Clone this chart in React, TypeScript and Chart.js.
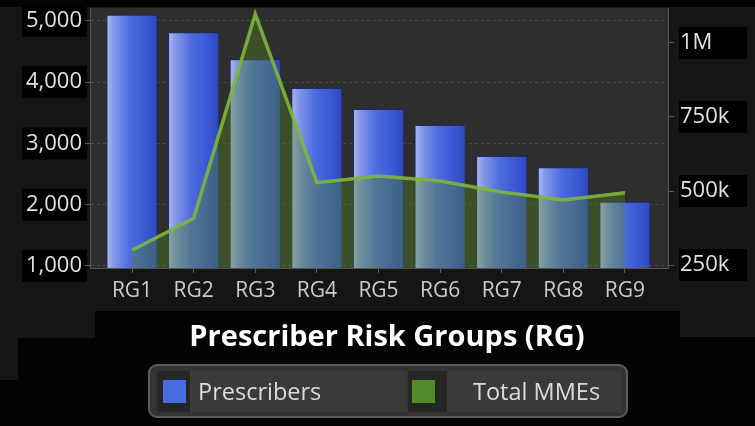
import React, { useEffect, useRef } from 'react';
import { Chart, registerables } from 'chart.js';

Chart.register(...registerables);

const categories = ['RG1', 'RG2', 'RG3', 'RG4', 'RG5', 'RG6', 'RG7', 'RG8', 'RG9'];
const prescribers = [5100, 4815, 4375, 3905, 3565, 3300, 2795, 2612, 2050];
const totalMMEs = [300000, 408000, 1098000, 528000, 551000, 534000, 497000, 470000, 494000];
const leftTicks = [1000, 2000, 3000, 4000, 5000];
const leftTickLabels = ['1,000', '2,000', '3,000', '4,000', '5,000'];
const rightTicks = [250000, 500000, 750000, 1000000];
const rightTickLabels = ['250k', '500k', '750k', '1M'];
const seriesLabels = ['Prescribers', 'Total MMEs'];
const xTitle = 'Prescriber Risk Groups (RG)';

const FONT = "'Open Sans', 'Noto Sans', sans-serif";
const BAR_PCT = 0.83;

function barFill(ctx: any) {
  const chart = ctx.chart;
  if (!chart.chartArea || ctx.type !== 'data' || !ctx.parsed) return 'rgb(75,105,220)';
  const xs = chart.scales.x;
  const cx = xs.getPixelForValue(ctx.parsed.x);
  const spacing = Math.abs(xs.getPixelForValue(2) - xs.getPixelForValue(1));
  const half = (spacing * BAR_PCT) / 2;
  const g = chart.ctx.createLinearGradient(cx - half, 0, cx + half, 0);
  g.addColorStop(0, 'rgb(172,184,240)');
  g.addColorStop(0.15, 'rgb(130,150,232)');
  g.addColorStop(0.45, 'rgb(78,108,222)');
  g.addColorStop(0.8, 'rgb(56,86,210)');
  g.addColorStop(1, 'rgb(46,70,188)');
  return g;
}

const decorPlugin = {
  id: 'decor',
  beforeDraw(chart: any) {
    const { ctx, chartArea: ca, width, height } = chart;
    ctx.save();
    ctx.fillStyle = '#030303';
    ctx.fillRect(0, 0, width, height);
    ctx.fillStyle = '#151515';
    ctx.fillRect(0, 7, width, 304);
    ctx.fillRect(0, 310, 95, 28);
    ctx.fillRect(0, 337, 18, 43);
    ctx.fillRect(680, 310, width - 680, 27);
    ctx.fillStyle = '#2e2e2e';
    ctx.fillRect(ca.left, ca.top, ca.right - ca.left, ca.bottom - ca.top);
    ctx.fillStyle = '#000';
    const ys = chart.scales.y;
    leftTicks.forEach((v) => {
      const p = ys.getPixelForValue(v);
      ctx.fillRect(22, p - 16, 65, 32);
    });
    const y1 = chart.scales.y1;
    rightTicks.forEach((v) => {
      const p = y1.getPixelForValue(v);
      ctx.fillRect(679, p - 16, 68, 32);
    });
    ctx.restore();
  },
  afterDraw(chart: any) {
    const { ctx } = chart;
    ctx.save();
    ctx.fillStyle = '#ffffff';
    ctx.font = `bold 29px ${FONT}`;
    ctx.textAlign = 'center';
    ctx.textBaseline = 'alphabetic';
    ctx.fillText(xTitle, 387, 346);

    const rr = (x: number, y: number, w: number, h: number, r: number) => {
      ctx.beginPath();
      ctx.moveTo(x + r, y);
      ctx.lineTo(x + w - r, y);
      ctx.arcTo(x + w, y, x + w, y + r, r);
      ctx.lineTo(x + w, y + h - r);
      ctx.arcTo(x + w, y + h, x + w - r, y + h, r);
      ctx.lineTo(x + r, y + h);
      ctx.arcTo(x, y + h, x, y + h - r, r);
      ctx.lineTo(x, y + r);
      ctx.arcTo(x, y, x + r, y, r);
      ctx.closePath();
    };
    rr(149, 365, 478, 52, 8);
    ctx.fillStyle = '#333333';
    ctx.fill();
    ctx.lineWidth = 2;
    ctx.strokeStyle = '#5c5c5c';
    ctx.stroke();

    const items = [
      { sq0: 157, sq1: 190, tx1: 407, swatch: 163, text: 198, color: 'rgb(70,108,222)' },
      { sq0: 408, sq1: 447, tx1: 622, swatch: 412, text: 473, color: 'rgb(82,140,42)' },
    ];
    const ds = chart.data.datasets;
    items.forEach((it, i) => {
      ctx.fillStyle = '#262626';
      ctx.fillRect(it.sq0, 371, it.sq1 - it.sq0, 41);
      ctx.fillStyle = '#3a3a3a';
      ctx.fillRect(it.sq1, 371, it.tx1 - it.sq1, 41);
      ctx.fillStyle = it.color;
      ctx.fillRect(it.swatch, 380, 23, 23);
      ctx.fillStyle = '#dcdcdc';
      ctx.font = `23.5px ${FONT}`;
      ctx.textAlign = 'left';
      ctx.textBaseline = 'alphabetic';
      ctx.fillText(ds[i].label, it.text, 400);
    });
    ctx.restore();
  },
};

export default function App() {
  const ref = useRef<HTMLCanvasElement>(null);
  useEffect(() => {
    document.body.style.margin = '0';
    document.body.style.background = '#030303';
    if (!ref.current) return;
    const chart = new Chart(ref.current, {
      type: 'bar',
      data: {
        datasets: [
          {
            type: 'bar',
            label: seriesLabels[0],
            data: prescribers.map((v, i) => ({ x: i + 1, y: v })),
            yAxisID: 'y',
            xAxisID: 'x',
            backgroundColor: barFill,
            borderColor: '#1d2a6c',
            borderWidth: 1,
            categoryPercentage: 1,
            barPercentage: BAR_PCT,
            order: 1,
          } as any,
          {
            type: 'line',
            label: seriesLabels[1],
            data: totalMMEs.map((v, i) => ({ x: i + 1, y: v })),
            yAxisID: 'y1',
            xAxisID: 'x',
            borderColor: 'rgba(126,182,58,0.9)',
            borderWidth: 3.5,
            backgroundColor: 'rgba(85,135,35,0.38)',
            fill: 'start',
            pointRadius: 0,
            tension: 0,
            order: 0,
          } as any,
        ],
      },
      options: {
        animation: false,
        responsive: false,
        devicePixelRatio: 1,
        events: [],
        layout: { padding: { top: 8, bottom: 118, left: 0, right: 0 } },
        plugins: { legend: { display: false }, tooltip: { enabled: false }, title: { display: false } },
        scales: {
          x: {
            type: 'linear',
            min: 0.318,
            max: 9.698,
            offset: false,
            grid: {
              offset: false,
              drawOnChartArea: false,
              drawTicks: true,
              tickLength: 5,
              tickColor: '#5a5a5a',
            },
            border: { color: '#555555', width: 1 },
            ticks: {
              color: '#cccccc',
              font: { family: FONT, size: 21 },
              padding: 5,
              maxRotation: 0,
              autoSkip: false,
              callback: (v: any) => categories[Number(v) - 1] ?? '',
            },
            afterBuildTicks: (s: any) => {
              s.ticks = categories.map((_, i) => ({ value: i + 1 }));
            },
            afterFit: (s: any) => {
              s.height = 40;
              s.paddingLeft = 0;
              s.paddingRight = 0;
            },
          },
          y: {
            type: 'linear',
            position: 'left',
            min: 967,
            max: 5212,
            grid: {
              color: 'rgba(255,255,255,0.13)',
              drawTicks: true,
              tickLength: 5,
              tickColor: '#5a5a5a',
              tickBorderDash: [],
            },
            border: { color: '#555555', width: 1, dash: [3, 3] },
            ticks: {
              color: '#e2e2e2',
              font: { family: FONT, size: 22 },
              padding: 3,
              callback: (v: any) => leftTickLabels[leftTicks.indexOf(Number(v))] ?? '',
            },
            afterBuildTicks: (s: any) => {
              s.ticks = leftTicks.map((v) => ({ value: v }));
            },
            afterFit: (s: any) => {
              s.width = 90;
              s.paddingTop = 0;
              s.paddingBottom = 0;
            },
          },
          y1: {
            type: 'linear',
            position: 'right',
            min: 240000,
            max: 1118000,
            grid: {
              drawOnChartArea: false,
              drawTicks: true,
              tickLength: 6,
              tickColor: '#5a5a5a',
            },
            border: { color: '#555555', width: 1 },
            ticks: {
              color: '#e2e2e2',
              font: { family: FONT, size: 22 },
              padding: 6,
              callback: (v: any) => rightTickLabels[rightTicks.indexOf(Number(v))] ?? '',
            },
            afterBuildTicks: (s: any) => {
              s.ticks = rightTicks.map((v) => ({ value: v }));
            },
            afterFit: (s: any) => {
              s.width = 87;
              s.paddingTop = 0;
              s.paddingBottom = 0;
            },
          },
        },
      } as any,
      plugins: [decorPlugin],
    });
    return () => chart.destroy();
  }, []);
  return (
    <div style={{ width: 755, height: 426 }}>
      <canvas ref={ref} width={755} height={426} style={{ display: 'block' }} />
    </div>
  );
}
